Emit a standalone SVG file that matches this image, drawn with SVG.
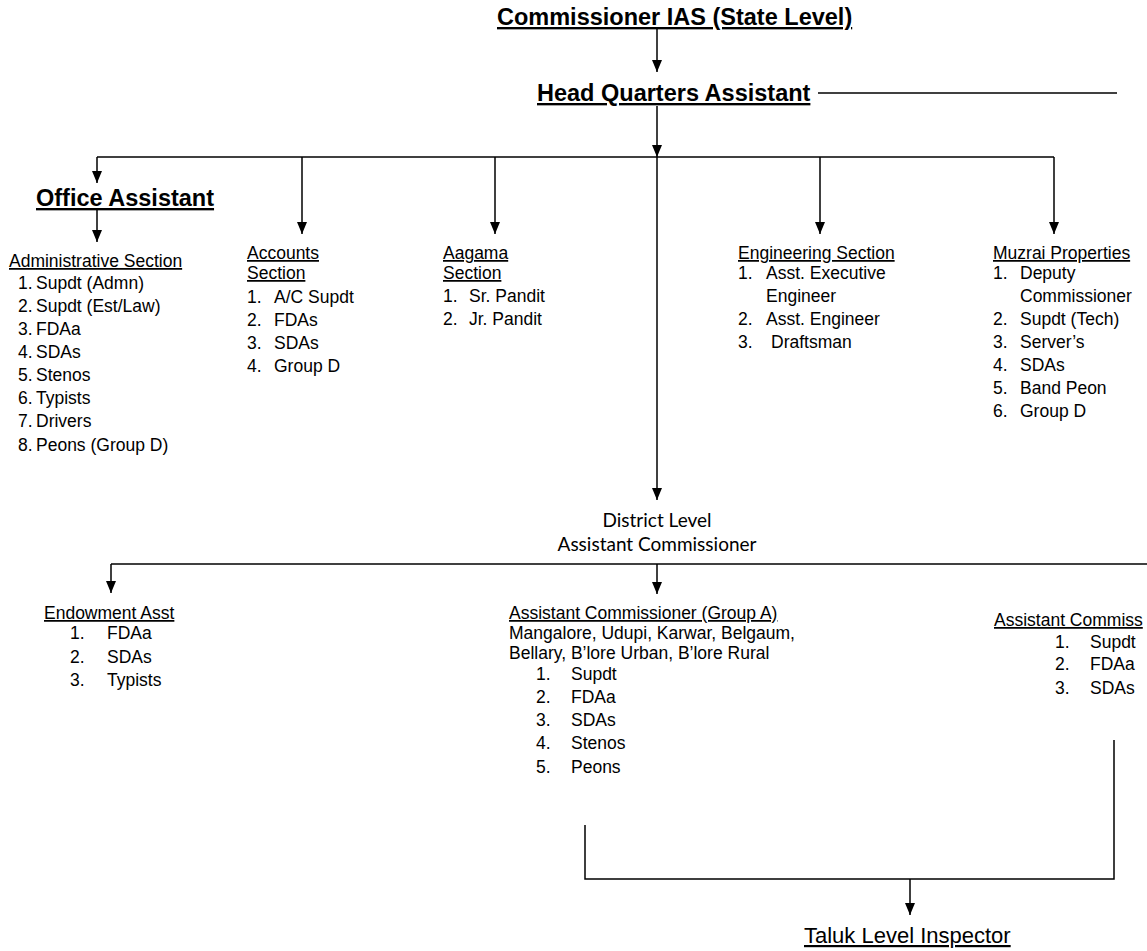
<svg xmlns="http://www.w3.org/2000/svg" width="1147" height="951" viewBox="0 0 1147 951">
<style>
text{font-family:"Liberation Sans",Arial,sans-serif;fill:#000}
.t{font-weight:bold;font-size:23.5px;text-decoration:underline}
.l{font-size:17.5px}
.u{text-decoration:underline}
.d{font-family:Lato,"Liberation Sans",sans-serif;font-size:19px;text-anchor:middle}
.c line,.c path{stroke:#000;stroke-width:1.5;fill:none}
.a{marker-end:url(#ah)}
</style>
<defs>
<marker id="ah" viewBox="0 0 12 10" refX="12" refY="5" markerWidth="12" markerHeight="10" markerUnits="userSpaceOnUse" orient="auto">
<path d="M0,0 L12,5 L0,10 z" fill="#000"/>
</marker>
</defs>
<rect width="1147" height="951" fill="#fff"/>
<g class="c" id="connectors">
<line class="a" x1="657" y1="29" x2="657" y2="72"/>
<line x1="818" y1="93" x2="1117" y2="93"/>
<line class="a" x1="657" y1="106" x2="657" y2="157"/>
<line x1="97" y1="157" x2="1054" y2="157"/>
<line class="a" x1="657" y1="157" x2="657" y2="500"/>
<line class="a" x1="97" y1="157" x2="97" y2="183"/>
<line class="a" x1="97" y1="208" x2="97" y2="242"/>
<line class="a" x1="302" y1="157" x2="302" y2="234"/>
<line class="a" x1="495" y1="157" x2="495" y2="234"/>
<line class="a" x1="820" y1="157" x2="820" y2="234"/>
<line class="a" x1="1054" y1="157" x2="1054" y2="234"/>
<line x1="111" y1="564" x2="1147" y2="564"/>
<line class="a" x1="111" y1="564" x2="111" y2="593"/>
<line class="a" x1="657" y1="564" x2="657" y2="594"/>
<path d="M585,825 V879 H1114 V740"/>
<line class="a" x1="910" y1="879" x2="910" y2="915"/>
</g>
<g id="commissioner"><text class="t" x="497" y="25">Commissioner IAS (State Level)</text></g>
<g id="hq"><text class="t" x="537" y="101">Head Quarters Assistant</text></g>
<g id="office-assistant"><text class="t" x="36" y="206">Office Assistant</text></g>
<g id="administrative" class="l">
<text class="l u" x="9" y="267">Administrative Section</text>
<text class="l" x="18" y="289">1.</text><text class="l" x="36" y="289">Supdt (Admn)</text>
<text class="l" x="18" y="312">2.</text><text class="l" x="36" y="312">Supdt (Est/Law)</text>
<text class="l" x="18" y="335">3.</text><text class="l" x="36" y="335">FDAa</text>
<text class="l" x="18" y="358">4.</text><text class="l" x="36" y="358">SDAs</text>
<text class="l" x="18" y="381">5.</text><text class="l" x="36" y="381">Stenos</text>
<text class="l" x="18" y="404">6.</text><text class="l" x="36" y="404">Typists</text>
<text class="l" x="18" y="427">7.</text><text class="l" x="36" y="427">Drivers</text>
<text class="l" x="18" y="451">8.</text><text class="l" x="36" y="451">Peons (Group D)</text>
</g>
<g id="accounts">
<text class="l u" x="247" y="259">Accounts</text>
<text class="l u" x="247" y="279">Section</text>
<text class="l" x="247" y="303">1.</text><text class="l" x="274" y="303">A/C Supdt</text>
<text class="l" x="247" y="326">2.</text><text class="l" x="274" y="326">FDAs</text>
<text class="l" x="247" y="349">3.</text><text class="l" x="274" y="349">SDAs</text>
<text class="l" x="247" y="372">4.</text><text class="l" x="274" y="372">Group D</text>
</g>
<g id="aagama">
<text class="l u" x="443" y="259">Aagama</text>
<text class="l u" x="443" y="279">Section</text>
<text class="l" x="443" y="302">1.</text><text class="l" x="469" y="302">Sr. Pandit</text>
<text class="l" x="443" y="325">2.</text><text class="l" x="469" y="325">Jr. Pandit</text>
</g>
<g id="engineering">
<text class="l u" x="738" y="259">Engineering Section</text>
<text class="l" x="738" y="279">1.</text><text class="l" x="766" y="279">Asst. Executive</text>
<text class="l" x="766" y="302">Engineer</text>
<text class="l" x="738" y="325">2.</text><text class="l" x="766" y="325">Asst. Engineer</text>
<text class="l" x="738" y="348">3.</text><text class="l" x="771" y="348">Draftsman</text>
</g>
<g id="muzrai">
<text class="l u" x="993" y="259">Muzrai Properties</text>
<text class="l" x="993" y="279">1.</text><text class="l" x="1020" y="279">Deputy</text>
<text class="l" x="1020" y="302">Commissioner</text>
<text class="l" x="993" y="325">2.</text><text class="l" x="1020" y="325">Supdt (Tech)</text>
<text class="l" x="993" y="348">3.</text><text class="l" x="1020" y="348">Server’s</text>
<text class="l" x="993" y="371">4.</text><text class="l" x="1020" y="371">SDAs</text>
<text class="l" x="993" y="394">5.</text><text class="l" x="1020" y="394">Band Peon</text>
<text class="l" x="993" y="417">6.</text><text class="l" x="1020" y="417">Group D</text>
</g>
<g id="district">
<text class="d" x="657" y="527">District Level</text>
<text class="d" x="657" y="551">Assistant Commissioner</text>
</g>
<g id="endowment">
<text class="l u" x="44" y="619">Endowment Asst</text>
<text class="l" x="70" y="639">1.</text><text class="l" x="107" y="639">FDAa</text>
<text class="l" x="70" y="663">2.</text><text class="l" x="107" y="663">SDAs</text>
<text class="l" x="70" y="686">3.</text><text class="l" x="107" y="686">Typists</text>
</g>
<g id="ac-group-a">
<text class="l u" x="509" y="619">Assistant Commissioner (Group A)</text>
<text class="l" x="509" y="639">Mangalore, Udupi, Karwar, Belgaum,</text>
<text class="l" x="509" y="659">Bellary, B’lore Urban, B’lore Rural</text>
<text class="l" x="536" y="680">1.</text><text class="l" x="571" y="680">Supdt</text>
<text class="l" x="536" y="703">2.</text><text class="l" x="571" y="703">FDAa</text>
<text class="l" x="536" y="726">3.</text><text class="l" x="571" y="726">SDAs</text>
<text class="l" x="536" y="749">4.</text><text class="l" x="571" y="749">Stenos</text>
<text class="l" x="536" y="773">5.</text><text class="l" x="571" y="773">Peons</text>
</g>
<g id="ac-other">
<text class="l u" x="994" y="626">Assistant Commiss</text>
<text class="l" x="1055" y="648">1.</text><text class="l" x="1090" y="648">Supdt</text>
<text class="l" x="1055" y="670">2.</text><text class="l" x="1090" y="670">FDAa</text>
<text class="l" x="1055" y="694">3.</text><text class="l" x="1090" y="694">SDAs</text>
</g>
<g id="taluk"><text class="u" x="804" y="943" style="font-size:22px">Taluk Level Inspector</text></g>
</svg>
